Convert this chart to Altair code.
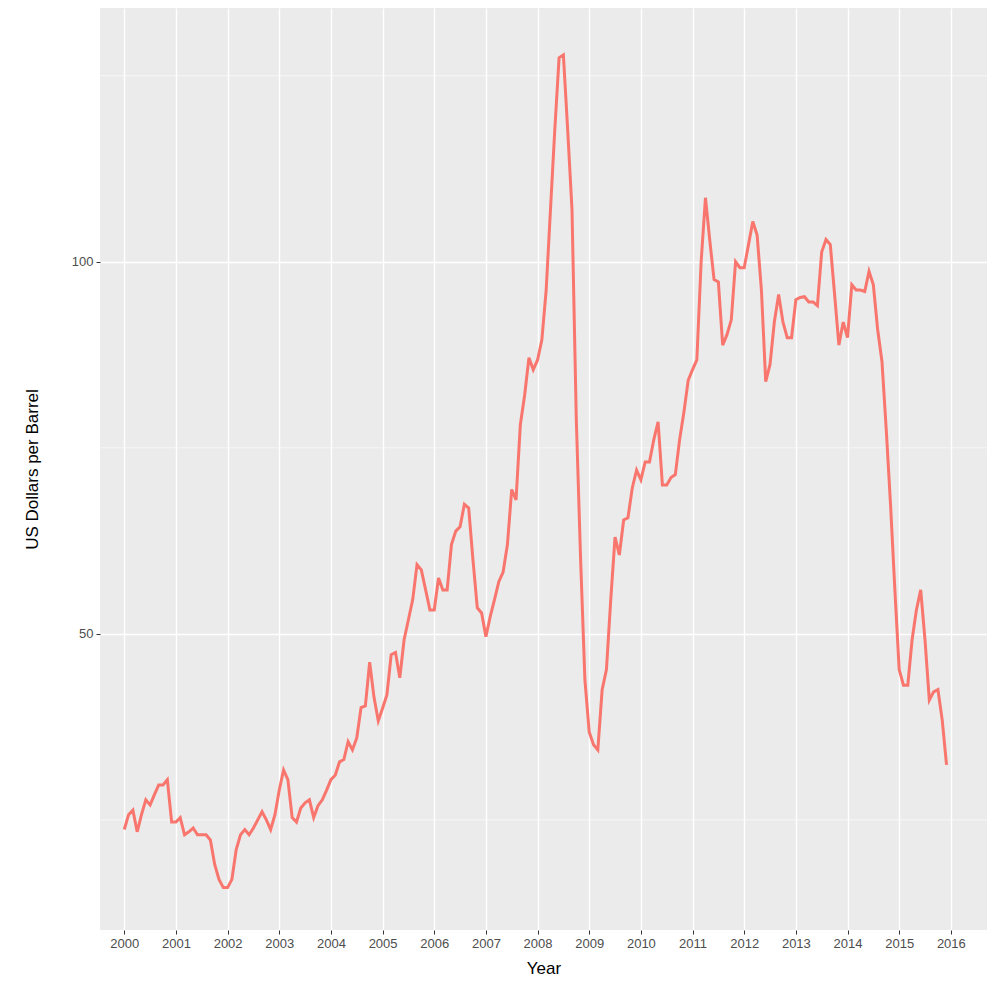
import altair as alt
import pandas as pd

LINE_COLOUR = "#F8766D"

years = list(range(2000, 2016))
# monthly prices, one list of 12 per year
p2000 = [23.7, 25.7, 26.3, 23.4, 25.7, 27.7, 27.0, 28.4, 29.7, 29.7, 30.4, 24.7]
p2001 = [24.7, 25.3, 23.0, 23.4, 23.9, 23.0, 23.0, 23.0, 22.3, 19.0, 17.0, 15.9]
p2002 = [15.9, 17.0, 21.0, 23.0, 23.7, 23.0, 23.9, 25.0, 26.1, 25.0, 23.7, 25.7]
p2003 = [29.0, 31.7, 30.4, 25.3, 24.7, 26.6, 27.3, 27.7, 25.3, 26.9, 27.7, 29.0]
p2004 = [30.4, 31.0, 32.8, 33.1, 35.5, 34.4, 36.0, 40.1, 40.3, 46.2, 41.5, 38.3]
p2005 = [40.0, 41.8, 47.2, 47.5, 44.1, 49.2, 51.9, 54.6, 59.3, 58.6, 55.9, 53.2]
p2006 = [53.2, 57.5, 55.9, 55.9, 62.0, 63.8, 64.4, 67.4, 66.9, 59.9, 53.5, 52.8]
p2007 = [49.6, 52.3, 54.6, 57.0, 58.3, 62.0, 69.4, 68.0, 78.1, 82.1, 87.1, 85.5]
p2008 = [86.8, 89.5, 96.2, 107.0, 117.7, 127.4, 127.8, 117.7, 107.0, 78.8, 60.0, 43.8]
p2009 = [36.8, 35.1, 34.4, 42.5, 45.2, 54.6, 63.0, 60.6, 65.3, 65.6, 69.6, 72.0]
p2010 = [70.7, 73.1, 73.1, 76.1, 78.5, 70.0, 70.0, 71.0, 71.4, 76.1, 79.8, 84.1]
p2011 = [85.5, 86.8, 100.0, 108.6, 102.9, 97.6, 97.3, 88.8, 90.2, 92.2, 100.0, 99.2]
p2012 = [99.2, 102.3, 105.4, 103.6, 96.2, 83.9, 86.2, 91.9, 95.6, 91.9, 89.8, 89.8]
p2013 = [94.9, 95.2, 95.3, 94.6, 94.6, 94.1, 101.3, 103.0, 102.3, 95.6, 88.8, 91.9]
p2014 = [89.8, 96.9, 96.2, 96.2, 96.0, 98.7, 96.9, 90.9, 86.6, 77.4, 67.3, 55.9]
p2015 = [45.2, 43.1, 43.1, 49.2, 53.2, 55.9, 49.2, 41.1, 42.2, 42.5, 38.4, 32.4]

prices = [p2000, p2001, p2002, p2003, p2004, p2005, p2006, p2007,
          p2008, p2009, p2010, p2011, p2012, p2013, p2014, p2015]

rows = []
for y, vals in zip(years, prices):
    for m, v in enumerate(vals):
        rows.append({"Year": y + m / 12, "Price": v})
df = pd.DataFrame(rows)

x_ticks = list(range(2000, 2017))
minor_y = [25, 75, 125]

x_scale = alt.Scale(domain=[1999.53, 2016.70], nice=False, zero=False)
y_scale = alt.Scale(domain=[10.2, 134.1], nice=False, zero=False)

minor = alt.Chart(pd.DataFrame({"v": minor_y})).mark_rule(
    color="white", strokeWidth=0.6
).encode(y=alt.Y("v:Q", scale=y_scale))

line = alt.Chart(df).mark_line(color=LINE_COLOUR, strokeWidth=3).encode(
    x=alt.X("Year:Q", scale=x_scale, title="Year",
            axis=alt.Axis(values=x_ticks, format="d", grid=True)),
    y=alt.Y("Price:Q", scale=y_scale, title="US Dollars per Barrel",
            axis=alt.Axis(values=[50, 100], grid=True)),
)

chart = alt.layer(minor, line).properties(
    width=887, height=922,
    autosize=alt.AutoSizeParams(type="none"),
    padding={"left": 92, "top": 0, "right": 5, "bottom": 62},
).configure_view(
    fill="#EBEBEB", stroke=None
).configure_axis(
    gridColor="white", gridWidth=1.4, domain=False,
    tickColor="#333333", tickSize=4,
    labelColor="#4D4D4D", labelFont="Liberation Sans", labelFontSize=13,
    titleColor="black", titleFont="Liberation Sans", titleFontSize=17,
    titleFontWeight="normal", labelPadding=3,
).configure_axisX(titlePadding=10).configure_axisY(titlePadding=30)

chart.save("out.html", embed_options={"renderer": "svg", "actions": False})
